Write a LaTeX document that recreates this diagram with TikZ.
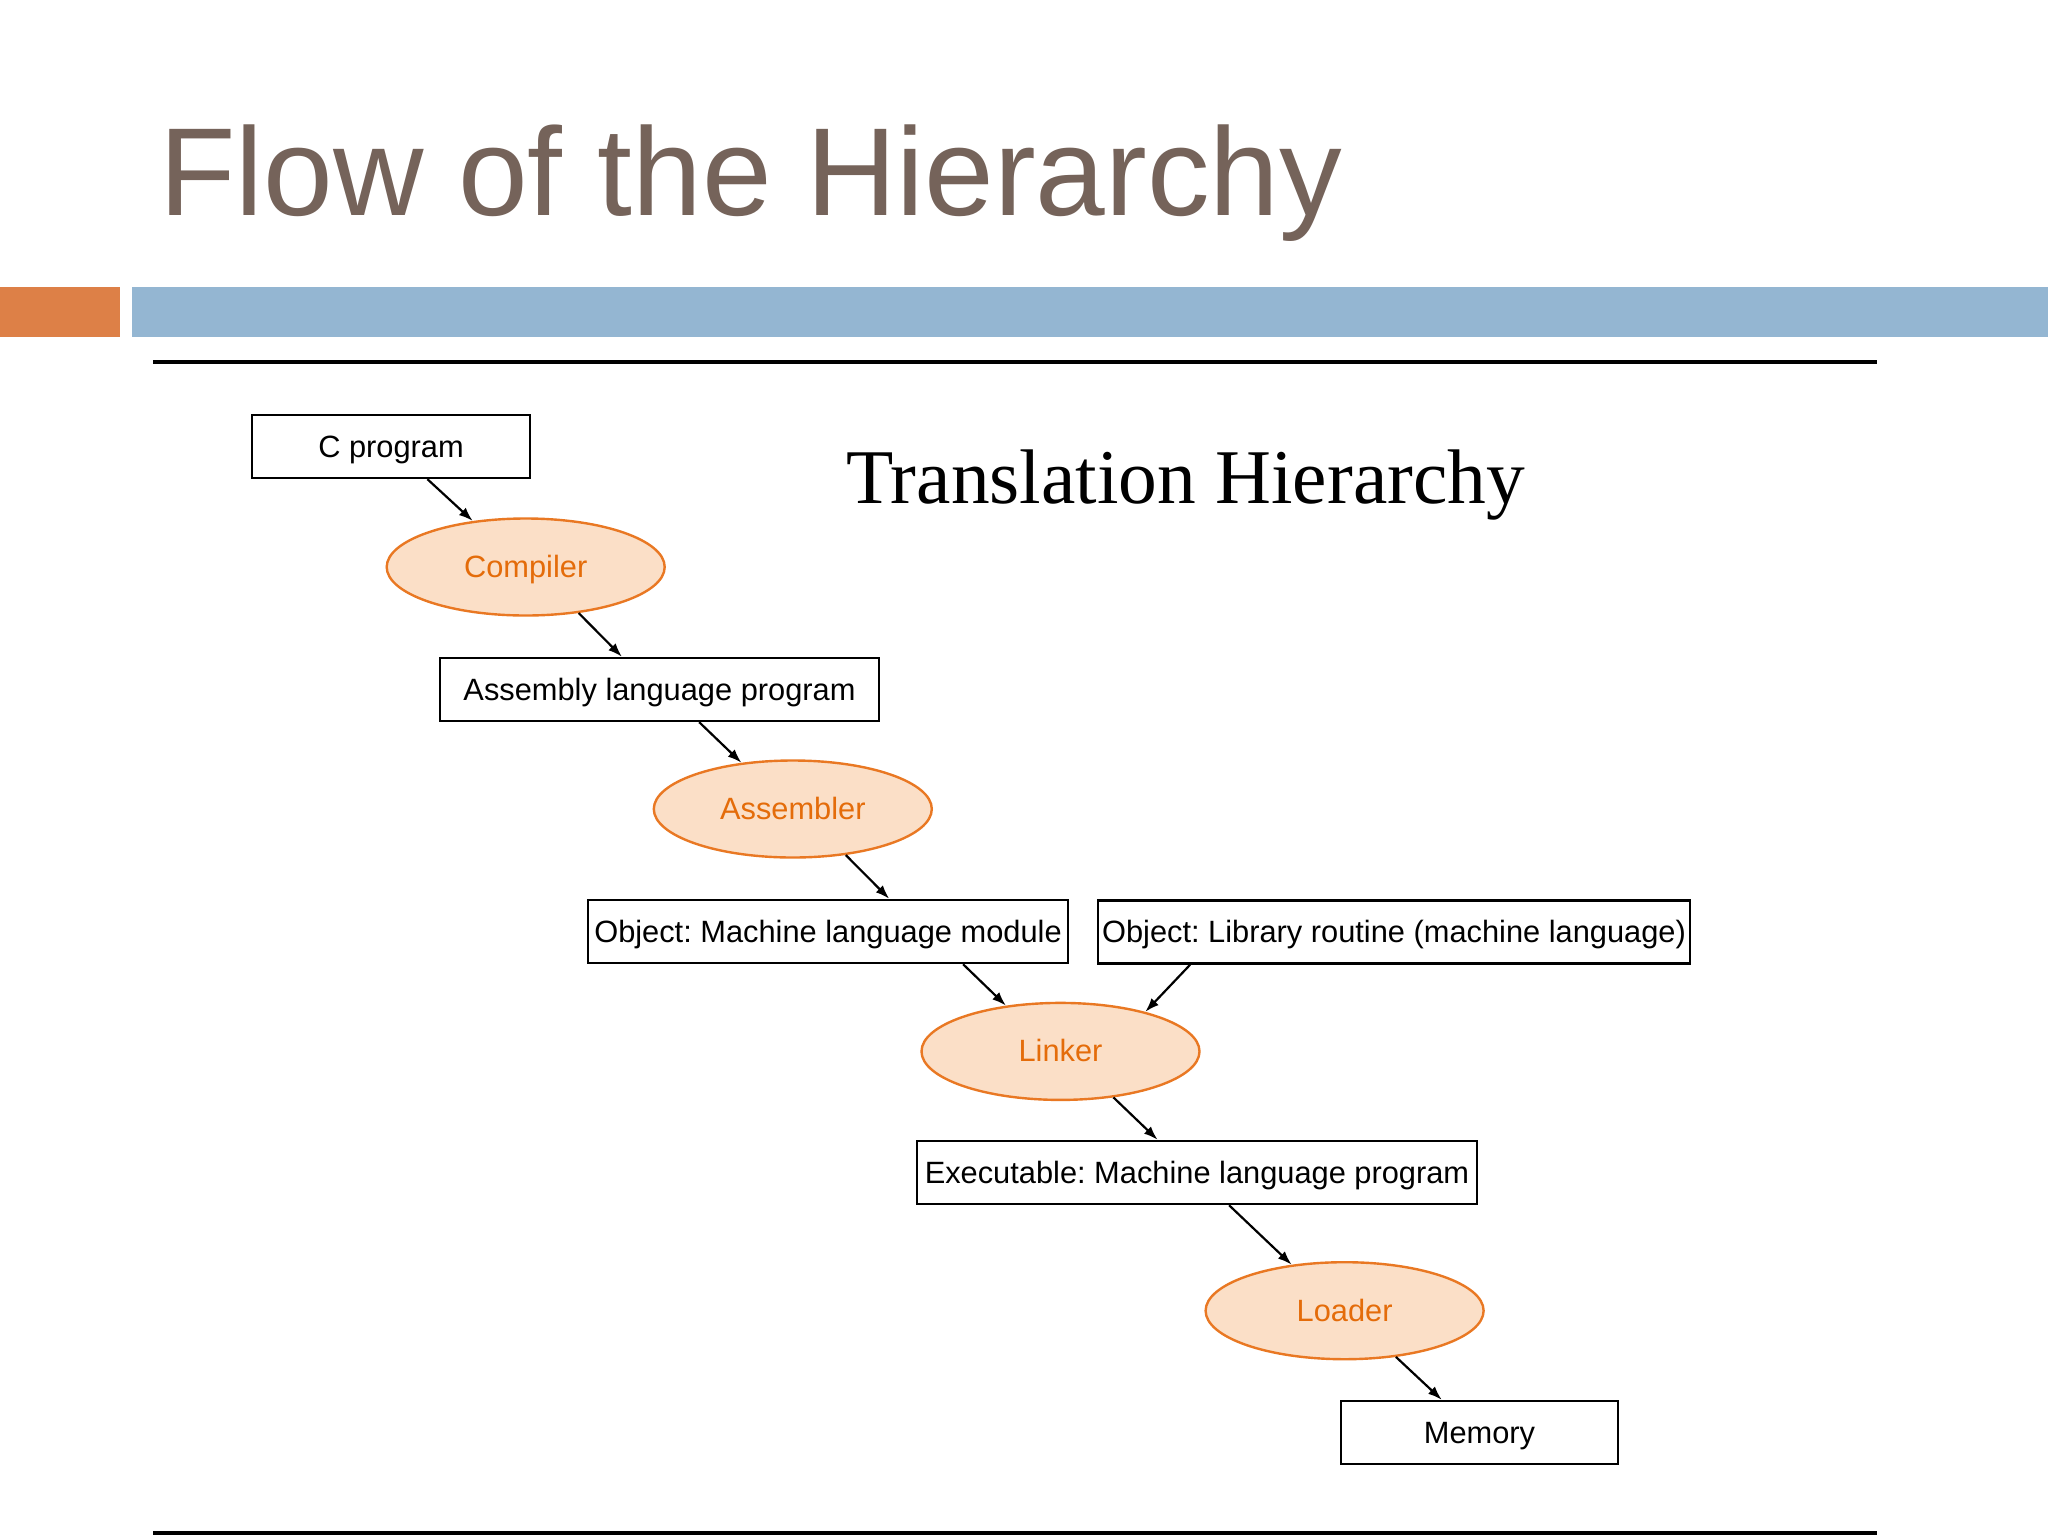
\documentclass[tikz,border=0pt]{standalone}
\usepackage{fontspec}
\setmainfont{Liberation Sans}
\newfontfamily\seriffont{Liberation Serif}
\usetikzlibrary{shapes.geometric,arrows.meta,calc}
\frenchspacing
\definecolor{titlebrown}{RGB}{117,99,90}
\definecolor{bannerorange}{RGB}{221,128,71}
\definecolor{bannerblue}{RGB}{148,182,210}
\definecolor{procfill}{RGB}{251,223,199}
\definecolor{procdraw}{RGB}{233,120,35}
\definecolor{proctext}{RGB}{228,108,10}
\tikzset{
  databox/.style={draw=black, line width=1.2pt, fill=white, inner sep=0pt,
    minimum height=31.5pt, text height=12pt, text depth=1.5pt,
    font=\fontsize{15.4}{18}\selectfont},
  procnode/.style={ellipse, draw=procdraw, fill=procfill, line width=1.2pt, inner sep=0pt,
    minimum width=139pt, minimum height=48.5pt, text height=12pt, text depth=1.5pt,
    text=proctext, font=\fontsize{15.4}{18}\selectfont},
  flow/.style={line width=1.1pt, -{Latex[length=7pt,width=5pt]}},
  rule/.style={line width=2pt, black}
}
\begin{document}
\begin{tikzpicture}[x=0.5pt,y=-0.5pt]
\useasboundingbox[fill=white] (0,0) rectangle (2048,1536);
% header
\node[anchor=base west, inner sep=0pt, text=titlebrown, font=\fontsize{62.6}{70}\selectfont] (title) at (159,215) {Flow of the Hierarchy};
\fill[bannerorange] (0,287) rectangle (120,337);
\fill[bannerblue] (132,287) rectangle (2048,337);
\draw[rule] (153,362) -- (1877,362);
\draw[rule] (153,1533) -- (1877,1533);
% diagram title
\node[anchor=base west, inner sep=0pt, font=\seriffont\fontsize{38.7}{44}\selectfont] (sub) at (846,503) {Translation Hierarchy};
% nodes
\node[databox, minimum width=139pt] (cprog) at (391,446.5) {C program};
\node[procnode] (comp) at (525.7,567) {Compiler};
\node[databox, minimum width=219.5pt] (asm) at (659.5,689.5) {Assembly language program};
\node[procnode] (asmr) at (792.8,809) {Assembler};
\node[databox, minimum width=240pt] (objm) at (828,931.5) {Object: Machine language module};
\node[databox, minimum width=296pt] (lib) at (1394,932) {Object: Library routine (machine language)};
\node[procnode] (link) at (1060.5,1051.4) {Linker};
\node[databox, minimum width=280pt] (exe) at (1197,1172.5) {Executable: Machine language program};
\node[procnode] (load) at (1344.6,1310.7) {Loader};
\node[databox, minimum width=138.5pt] (mem) at (1479.5,1432.5) {Memory};
% connectors
\draw[flow] ($(cprog.south west)!0.63!(cprog.south east)$) -- (comp.139);
\draw[flow] (comp.-41) -- ($(asm.north west)!0.415!(asm.north east)$);
\draw[flow] ($(asm.south west)!0.59!(asm.south east)$) -- (asmr.138);
\draw[flow] (asmr.-41) -- ($(objm.north west)!0.627!(objm.north east)$);
\draw[flow] ($(objm.south west)!0.78!(objm.south east)$) -- (link.140);
\draw[flow] ($(lib.south west)!0.157!(lib.south east)$) -- (link.25);
\draw[flow] (link.-41) -- ($(exe.north west)!0.43!(exe.north east)$);
\draw[flow] ($(exe.south west)!0.557!(exe.south east)$) -- (load.139);
\draw[flow] (load.-42) -- ($(mem.north west)!0.365!(mem.north east)$);
\end{tikzpicture}
\end{document}
